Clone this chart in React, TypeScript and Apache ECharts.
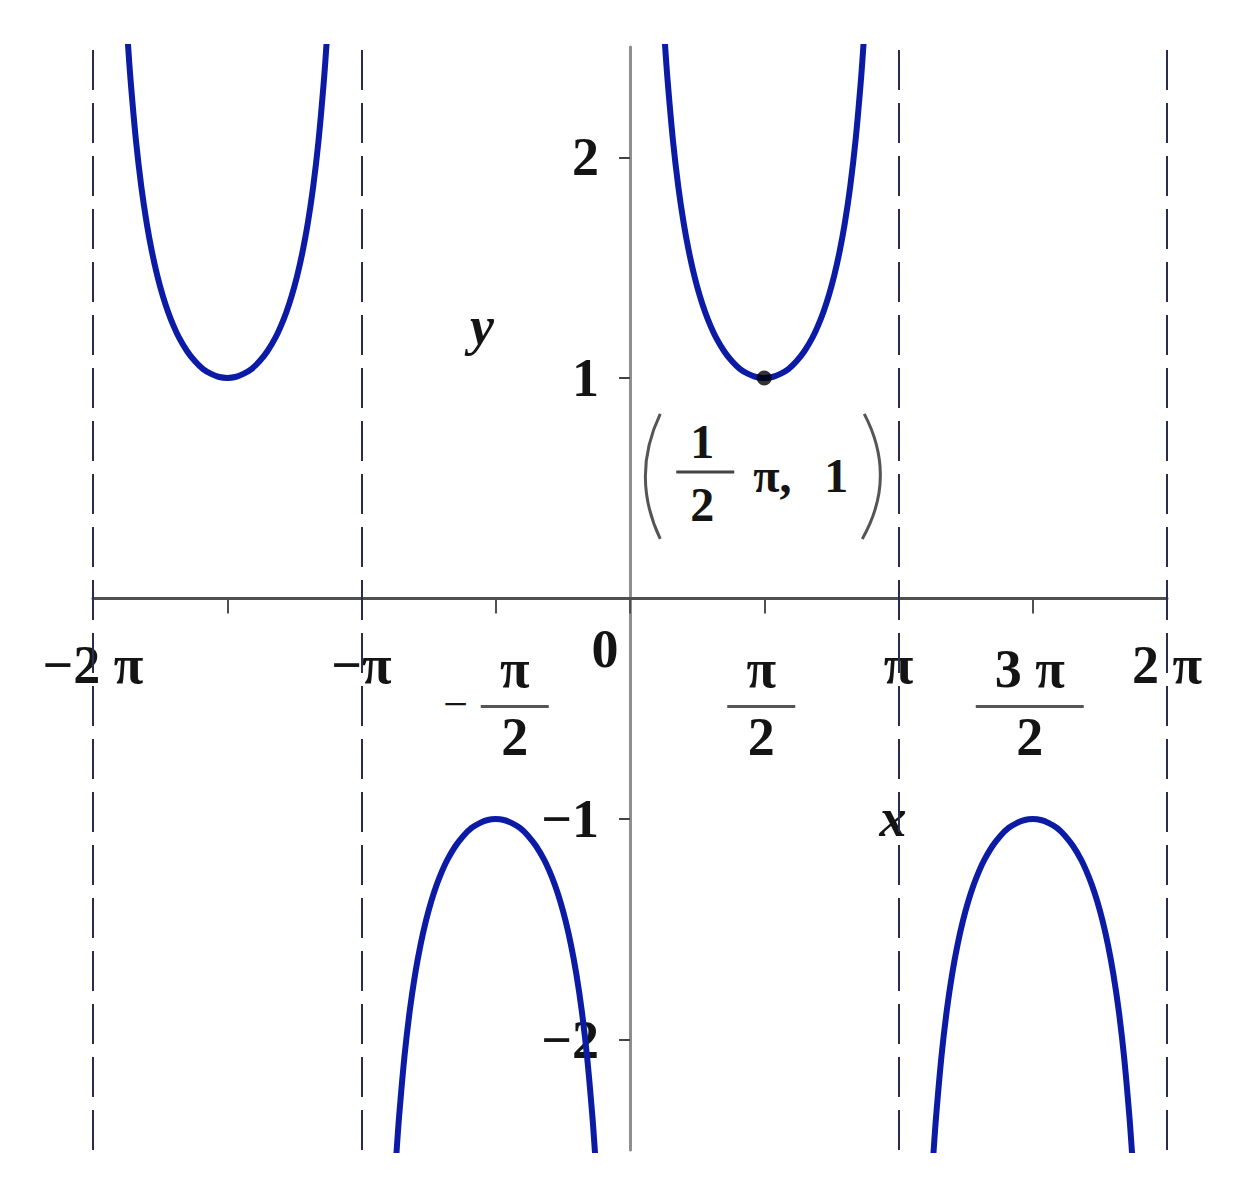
import React, { useEffect, useRef } from "react";
import * as echarts from "echarts";

// ---- data (x in units of π) ----
const xMin = -2;
const xMax = 2;
const xTickInterval = 0.5;
const yMin = -2.5;
const yMax = 2.5;
const yLabelValues = [-2, -1, 1, 2];
const yLabelTexts = ["−2", "−1", "1", "2"];
const xLabelValues = [-2, -1, -0.5, 0, 0.5, 1, 1.5, 2];
const xLabelTexts = ["−2 π", "−π", "−π/2", "0", "π/2", "π", "3 π/2", "2 π"];
const asymptotes = [-2, -1, 1, 2];

const branch1: [number, number][] = [
  [-1.87, 2.518], [-1.86, 2.349], [-1.84, 2.076], [-1.82, 1.866], [-1.8, 1.701], [-1.78, 1.569],
  [-1.76, 1.461], [-1.74, 1.372], [-1.72, 1.298], [-1.7, 1.236], [-1.68, 1.184], [-1.65, 1.122],
  [-1.62, 1.075], [-1.59, 1.04], [-1.56, 1.018], [-1.53, 1.004], [-1.5, 1.0], [-1.47, 1.004],
  [-1.44, 1.018], [-1.41, 1.04], [-1.38, 1.075], [-1.35, 1.122], [-1.32, 1.184], [-1.3, 1.236],
  [-1.28, 1.298], [-1.26, 1.372], [-1.24, 1.461], [-1.22, 1.569], [-1.2, 1.701], [-1.18, 1.866],
  [-1.16, 2.076], [-1.14, 2.349], [-1.13, 2.518],
];
const branch2: [number, number][] = [
  [-0.87, -2.518], [-0.86, -2.349], [-0.84, -2.076], [-0.82, -1.866], [-0.8, -1.701], [-0.78, -1.569],
  [-0.76, -1.461], [-0.74, -1.372], [-0.72, -1.298], [-0.7, -1.236], [-0.68, -1.184], [-0.65, -1.122],
  [-0.62, -1.075], [-0.59, -1.04], [-0.56, -1.018], [-0.53, -1.004], [-0.5, -1.0], [-0.47, -1.004],
  [-0.44, -1.018], [-0.41, -1.04], [-0.38, -1.075], [-0.35, -1.122], [-0.32, -1.184], [-0.3, -1.236],
  [-0.28, -1.298], [-0.26, -1.372], [-0.24, -1.461], [-0.22, -1.569], [-0.2, -1.701], [-0.18, -1.866],
  [-0.16, -2.076], [-0.14, -2.349], [-0.13, -2.518],
];
const branch3: [number, number][] = [
  [0.13, 2.518], [0.14, 2.349], [0.16, 2.076], [0.18, 1.866], [0.2, 1.701], [0.22, 1.569],
  [0.24, 1.461], [0.26, 1.372], [0.28, 1.298], [0.3, 1.236], [0.32, 1.184], [0.35, 1.122],
  [0.38, 1.075], [0.41, 1.04], [0.44, 1.018], [0.47, 1.004], [0.5, 1.0], [0.53, 1.004],
  [0.56, 1.018], [0.59, 1.04], [0.62, 1.075], [0.65, 1.122], [0.68, 1.184], [0.7, 1.236],
  [0.72, 1.298], [0.74, 1.372], [0.76, 1.461], [0.78, 1.569], [0.8, 1.701], [0.82, 1.866],
  [0.84, 2.076], [0.86, 2.349], [0.87, 2.518],
];
const branch4: [number, number][] = [
  [1.13, -2.518], [1.14, -2.349], [1.16, -2.076], [1.18, -1.866], [1.2, -1.701], [1.22, -1.569],
  [1.24, -1.461], [1.26, -1.372], [1.28, -1.298], [1.3, -1.236], [1.32, -1.184], [1.35, -1.122],
  [1.38, -1.075], [1.41, -1.04], [1.44, -1.018], [1.47, -1.004], [1.5, -1.0], [1.53, -1.004],
  [1.56, -1.018], [1.59, -1.04], [1.62, -1.075], [1.65, -1.122], [1.68, -1.184], [1.7, -1.236],
  [1.72, -1.298], [1.74, -1.372], [1.76, -1.461], [1.78, -1.569], [1.8, -1.701], [1.82, -1.866],
  [1.84, -2.076], [1.86, -2.349], [1.87, -2.518],
];
const markedPoint: [number, number] = [0.5, 1];
const markedPointNum = "1";
const markedPointDen = "2";
const markedPointMid = "π,";
const markedPointY = "1";

const FONT = "'Liberation Serif', 'Times New Roman', serif";
const TEXT_COLOR = "#141414";
const FS = 54;

export default function App() {
  const ref = useRef<HTMLDivElement>(null);

  useEffect(() => {
    if (!ref.current) return;
    const chart = echarts.init(ref.current, null, { renderer: "svg" });

    const curve = (data: [number, number][], extra: any = {}) => ({
      type: "line",
      data,
      showSymbol: false,
      smooth: 0.3,
      clip: true,
      silent: true,
      lineStyle: { color: "#0c1ba6", width: 6 },
      ...extra,
    });

    chart.setOption({
      animation: false,
      backgroundColor: "#ffffff",
      grid: { left: 93, right: 91, top: 47, bottom: 50 },
      xAxis: {
        type: "value",
        min: xMin,
        max: xMax,
        interval: xTickInterval,
        axisLine: { onZero: true, lineStyle: { color: "#505050", width: 3 } },
        axisTick: { show: true, length: 15, lineStyle: { color: "#505050", width: 2 } },
        axisLabel: { show: false },
        splitLine: { show: false },
      },
      yAxis: {
        type: "value",
        min: yMin,
        max: yMax,
        axisLine: { onZero: true, lineStyle: { color: "#8f8f8f", width: 3 } },
        axisTick: {
          show: true,
          length: 11,
          customValues: yLabelValues,
          lineStyle: { color: "#444", width: 2 },
        },
        axisLabel: { show: false },
        splitLine: { show: false },
      },
      series: [
        curve(branch1, {
          markLine: {
            silent: true,
            symbol: ["none", "none"],
            label: { show: false },
            lineStyle: { type: [40, 13], color: "#2b2b4e", width: 2 },
            data: asymptotes.map((v) => ({ xAxis: v })),
          },
        }),
        curve(branch2),
        curve(branch3),
        curve(branch4),
        {
          type: "scatter",
          data: [markedPoint],
          symbolSize: 15,
          itemStyle: { color: "#000" },
          silent: true,
          z: 5,
        },
      ],
    });

    const toPx = (p: [number, number]) => chart.convertToPixel({ gridIndex: 0 }, p) as number[];
    const [axisX, axisY] = toPx([0, 0]);
    const graphics: any[] = [];
    const txt = (text: string, x: number, y: number, extra: any = {}) => ({
      type: "text",
      x,
      y,
      silent: true,
      style: {
        text,
        fontFamily: FONT,
        fontWeight: "bold",
        fontSize: FS,
        fill: TEXT_COLOR,
        align: "center",
        verticalAlign: "middle",
        ...extra,
      },
    });

    // x-axis labels
    xLabelValues.forEach((v, i) => {
      const label = xLabelTexts[i];
      const cx = toPx([v, 0])[0];
      if (label.includes("/")) {
        let body = label;
        let neg = false;
        if (body.startsWith("−")) {
          neg = true;
          body = body.slice(1);
        }
        const [num, den] = body.split("/");
        const fx = neg ? cx + 19 : cx - 3;
        const barW = num.length > 1 ? 108 : 68;
        graphics.push(txt(num, fx, axisY + 70));
        graphics.push({
          type: "line",
          silent: true,
          shape: { x1: fx - barW / 2, y1: axisY + 108, x2: fx + barW / 2, y2: axisY + 108 },
          style: { stroke: "#555", lineWidth: 3 },
        });
        graphics.push(txt(den, fx, axisY + 138));
        if (neg) graphics.push(txt("−", cx - 40, axisY + 106, { fontWeight: "normal", fontSize: 44 }));
      } else if (label === "0") {
        graphics.push(txt(label, cx - 25, axisY + 50));
      } else {
        graphics.push(txt(label, cx, axisY + 66));
      }
    });

    // y-axis labels next to the axis line
    yLabelValues.forEach((v, i) => {
      const y = toPx([0, v])[1];
      graphics.push(txt(yLabelTexts[i], axisX - 31, y, { align: "right" }));
    });

    // axis names
    graphics.push(txt("y", 482, 326, { fontStyle: "italic" }));
    graphics.push(txt("x", 893, 818, { fontStyle: "italic" }));

    // marked point label
    const [px, py] = toPx(markedPoint);
    graphics.push({
      type: "bezierCurve",
      silent: true,
      shape: { x1: px - 104, y1: py + 36, cpx1: px - 124, cpy1: py + 78, cpx2: px - 124, cpy2: py + 119, x2: px - 104, y2: py + 161 },
      style: { stroke: "#555", lineWidth: 3, fill: "none" },
    });
    graphics.push({
      type: "bezierCurve",
      silent: true,
      shape: { x1: px + 100, y1: py + 36, cpx1: px + 122, cpy1: py + 78, cpx2: px + 122, cpy2: py + 119, x2: px + 98, y2: py + 161 },
      style: { stroke: "#555", lineWidth: 3, fill: "none" },
    });
    graphics.push(txt(markedPointNum, px - 62, py + 64, { fontSize: 48 }));
    graphics.push({
      type: "line",
      silent: true,
      shape: { x1: px - 88, y1: py + 94, x2: px - 30, y2: py + 94 },
      style: { stroke: "#444", lineWidth: 3 },
    });
    graphics.push(txt(markedPointDen, px - 62, py + 127, { fontSize: 48 }));
    graphics.push(txt(markedPointMid, px - 11, py + 98, { align: "left", fontSize: 48 }));
    graphics.push(txt(markedPointY, px + 72, py + 98, { fontSize: 48 }));

    chart.setOption({ graphic: graphics });

    return () => chart.dispose();
  }, []);

  return (
    <div
      ref={ref}
      style={{ position: "absolute", left: 0, top: 0, width: 1258, height: 1200, background: "#fff" }}
    />
  );
}
